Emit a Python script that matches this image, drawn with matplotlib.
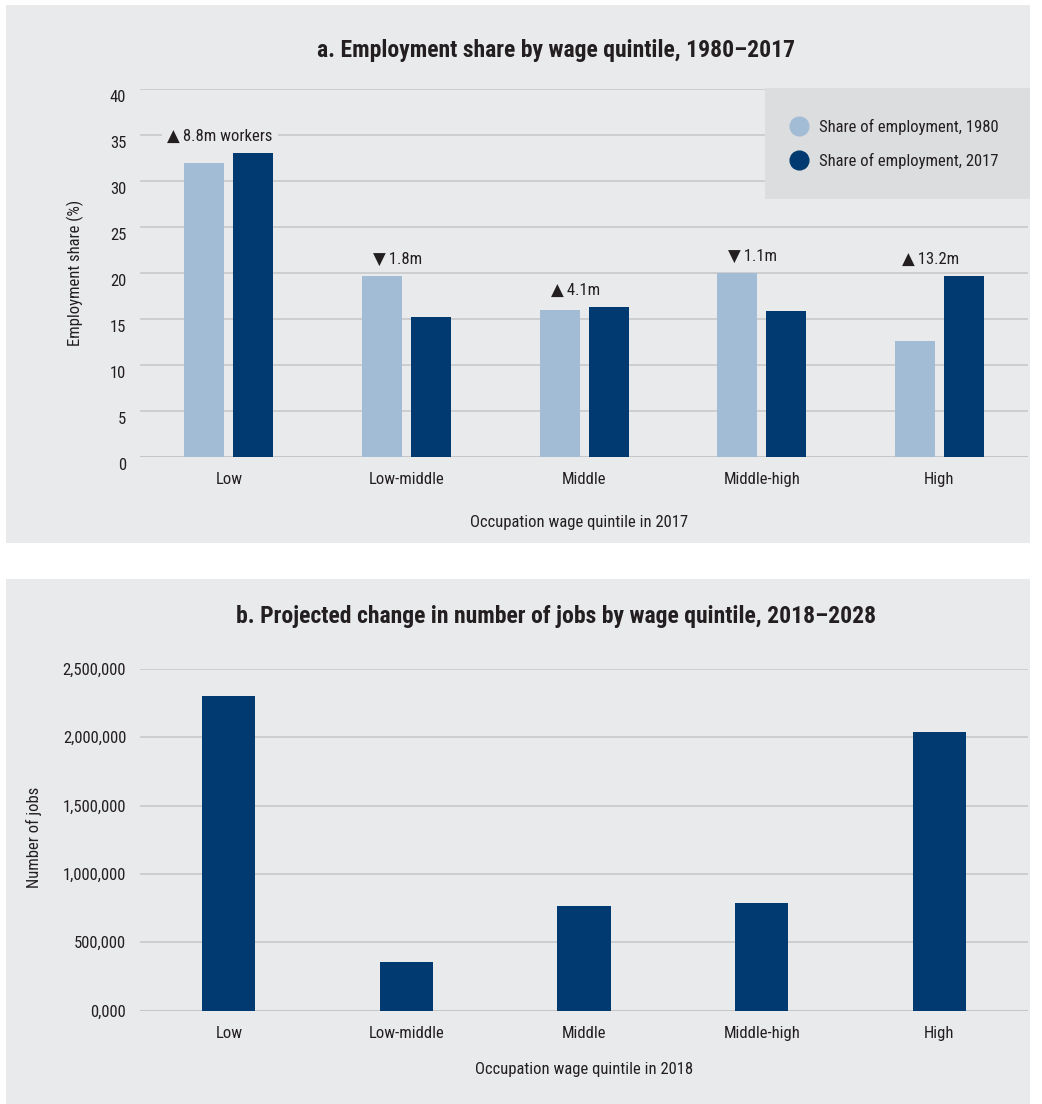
import numpy as np
import matplotlib
matplotlib.use("Agg")
import matplotlib.pyplot as plt
from matplotlib import font_manager
from matplotlib.lines import Line2D
from matplotlib.patches import Rectangle
from matplotlib.ticker import FuncFormatter
from matplotlib.transforms import ScaledTranslation

# ---------------------------------------------------------------
# data
quintiles = ["Low", "Low-middle", "Middle", "Middle-high", "High"]
share_1980 = [32.0, 19.7, 16.0, 20.0, 12.6]
share_2017 = [33.0, 15.2, 16.3, 15.9, 19.7]
change_labels = ["\u25b2\u20098.8m workers", "\u25bc\u20091.8m", "\u25b2\u20094.1m",
                 "\u25bc\u20091.1m", "\u25b2\u200913.2m"]

jobs_change = [2300000, 355000, 765000, 787000, 2040000]

# ---------------------------------------------------------------
# fonts: prefer a condensed face if one is installed
names = {f.name for f in font_manager.fontManager.ttflist}
cands = ["Roboto Condensed", "Liberation Sans Narrow", "Open Sans Condensed",
         "Noto Sans Condensed", "Liberation Sans"]
main_font = next((n for n in cands if n in names), "DejaVu Sans")
plt.rcParams["font.family"] = [main_font, "DejaVu Sans"]

BG = "#e9eaec"
LEG_BG = "#dcdddf"
LIGHT = "#a3bcd6"
DARK = "#003a70"
GRID = "#c5c6c8"
TXT = "#231f20"

fig = plt.figure(figsize=(10.42, 11.04), dpi=100)
fig.patch.set_facecolor("white")

# panel backgrounds
fig.add_artist(Rectangle((6 / 1042, 1 - 543 / 1104), 1024 / 1042, 538 / 1104,
                         transform=fig.transFigure, facecolor=BG, edgecolor="none", zorder=-5))
fig.add_artist(Rectangle((6 / 1042, 0), 1024 / 1042, 525 / 1104,
                         transform=fig.transFigure, facecolor=BG, edgecolor="none", zorder=-5))

ax1 = fig.add_axes([0.1344, 0.5861, 0.8522, 0.3333])
ax2 = fig.add_axes([0.1344, 0.0845, 0.8522, 0.3098])

x = np.arange(len(quintiles))


def style(ax):
    ax.set_facecolor("none")
    for s in ax.spines.values():
        s.set_visible(False)
    ax.tick_params(axis="both", length=0, labelsize=12, colors=TXT)
    ax.tick_params(axis="x", pad=11)
    ax.tick_params(axis="y", pad=10)
    ax.yaxis.grid(True, color=GRID, linewidth=1.1)
    ax.set_axisbelow(True)
    ax.set_xlim(-0.5, len(quintiles) - 0.5)
    ax.set_xticks(x)
    ax.set_xticklabels(quintiles)
    ax.axhline(0, color=GRID, linewidth=2.2, zorder=1)


# ---------------------------------------------------------------
# a. employment share
style(ax1)
w = 0.225
ax1.bar(x - 0.138, share_1980, w, color=LIGHT, zorder=2, label="Share of employment, 1980")
ax1.bar(x + 0.138, share_2017, w, color=DARK, zorder=2, label="Share of employment, 2017")
ax1.set_ylim(0, 40)
ax1.set_yticks(np.arange(0, 41, 5))
# tick numbers sit a little below their gridlines
shift = ScaledTranslation(0, -7 / 100, fig.dpi_scale_trans)
for tk in ax1.yaxis.get_major_ticks():
    tk.label1.set_transform(tk.label1.get_transform() + shift)

for i, lab in enumerate(change_labels):
    top = max(share_1980[i], share_2017[i])
    ax1.text(i - 0.05, top + 1.8, lab, ha="center", va="center", fontsize=12, color=TXT,
             zorder=3, bbox=dict(boxstyle="square,pad=0.3", facecolor=BG, edgecolor="none"))
ax1.set_ylabel("Employment share (%)", fontsize=12, color=TXT)
ax1.yaxis.set_label_coords(-0.0627, 0.5)
ax1.set_xlabel("Occupation wage quintile in 2017", fontsize=12, color=TXT)
ax1.xaxis.set_label_coords(0.494, -0.157)

# legend box
ax1.add_artist(Rectangle((765 / 1042, 1 - 199 / 1104), 265 / 1042, 111 / 1104,
                         transform=fig.transFigure, facecolor=LEG_BG, edgecolor="none",
                         zorder=4, clip_on=False))
handles = [Line2D([], [], marker="o", linestyle="none", markersize=13.5,
                  markerfacecolor=c, markeredgecolor=c) for c in (LIGHT, DARK)]
leg = ax1.legend(handles, ["Share of employment, 1980", "Share of employment, 2017"],
                 loc="upper left", bbox_to_anchor=(789 / 1042, 1 - 119 / 1104),
                 bbox_transform=fig.transFigure, frameon=False, fontsize=12,
                 handletextpad=0.6, labelspacing=1.07, borderpad=0, borderaxespad=0,
                 handlelength=1.2)
leg.set_zorder(5)
for t in leg.get_texts():
    t.set_color(TXT)

fig.text(0.5336, 1 - 50 / 1104, "a. Employment share by wage quintile, 1980\u20132017",
         ha="center", va="center", fontsize=17, fontweight="bold", color=TXT)

# ---------------------------------------------------------------
# b. projected change in jobs
style(ax2)
ax2.bar(x, jobs_change, 0.30, color=DARK, zorder=2)
ax2.set_ylim(0, 2500000)
ax2.set_yticks(np.arange(0, 2500001, 500000))
ax2.yaxis.set_major_formatter(FuncFormatter(lambda v, p: "0,000" if v == 0 else f"{int(v):,}"))
ax2.set_ylabel("Number of jobs", fontsize=12, color=TXT)
ax2.yaxis.set_label_coords(-0.110, 0.506)
ax2.set_xlabel("Occupation wage quintile in 2018", fontsize=12, color=TXT)
ax2.xaxis.set_label_coords(0.4997, -0.150)

fig.text(0.5336, 1 - 617 / 1104,
         "b. Projected change in number of jobs by wage quintile, 2018\u20132028",
         ha="center", va="center", fontsize=17, fontweight="bold", color=TXT)

fig.savefig("out.png", dpi=100, facecolor=fig.get_facecolor())
